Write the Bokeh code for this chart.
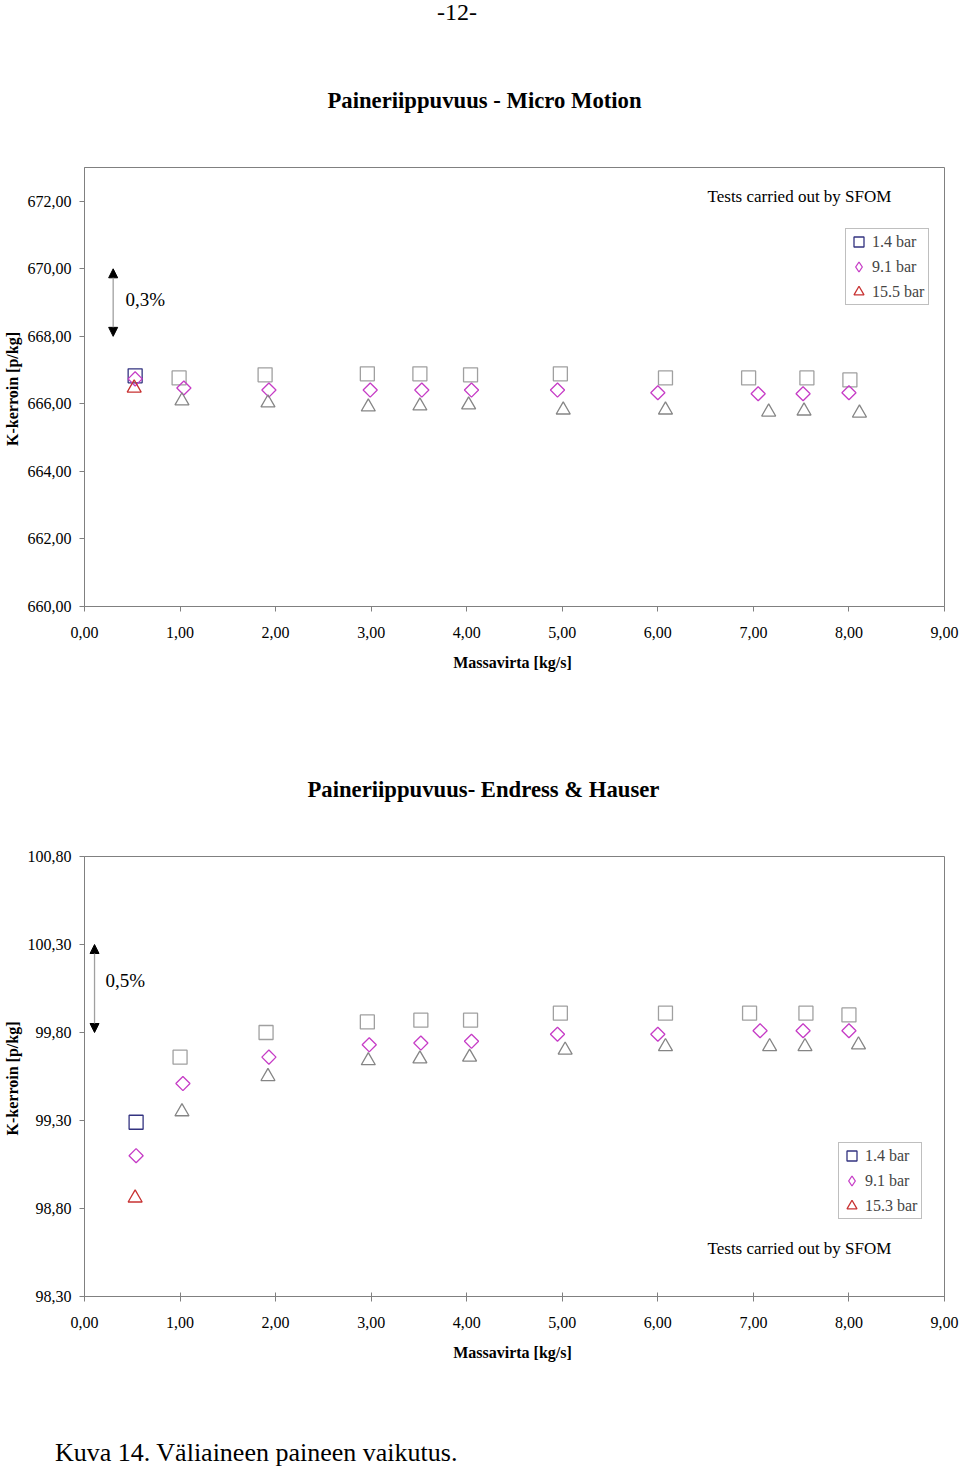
import numpy as np
from bokeh.plotting import figure
from bokeh.models import (ColumnDataSource, CDSView, IndexFilter, Range1d, FixedTicker, Div,
                          CustomJSTickFormatter, Label, Arrow, NormalHead, Legend, LegendItem)
from bokeh.layouts import column
from bokeh.embed import file_html
from bokeh.resources import INLINE

# ---------------- data ----------------
x_ticks = [0, 1, 2, 3, 4, 5, 6, 7, 8, 9]
top_y_ticks = [660, 662, 664, 666, 668, 670, 672]
bot_y_ticks = [98.3, 98.8, 99.3, 99.8, 100.3, 100.8]

# Micro Motion
mm_x_14 = [0.53, 0.99, 1.89, 2.96, 3.51, 4.04, 4.98, 6.08, 6.95, 7.56, 8.01]
mm_y_14 = [666.83, 666.77, 666.86, 666.89, 666.89, 666.86, 666.89, 666.77, 666.77, 666.77, 666.71]
mm_x_91 = [0.53, 1.04, 1.93, 2.99, 3.53, 4.05, 4.95, 6.00, 7.05, 7.52, 8.00]
mm_y_91 = [666.74, 666.47, 666.41, 666.41, 666.41, 666.41, 666.41, 666.33, 666.30, 666.30, 666.33]
mm_x_155 = [0.52, 1.02, 1.92, 2.97, 3.51, 4.02, 5.01, 6.08, 7.16, 7.53, 8.11]
mm_y_155 = [666.47, 666.09, 666.03, 665.91, 665.94, 665.97, 665.82, 665.82, 665.76, 665.79, 665.73]

# Endress & Hauser
eh_x_14 = [0.54, 1.00, 1.90, 2.96, 3.52, 4.04, 4.98, 6.08, 6.96, 7.55, 8.00]
eh_y_14 = [99.29, 99.66, 99.80, 99.86, 99.87, 99.87, 99.91, 99.91, 99.91, 99.91, 99.90]
eh_x_91 = [0.54, 1.03, 1.93, 2.98, 3.52, 4.05, 4.95, 6.00, 7.07, 7.52, 8.00]
eh_y_91 = [99.10, 99.51, 99.66, 99.73, 99.74, 99.75, 99.79, 99.79, 99.81, 99.81, 99.81]
eh_x_153 = [0.53, 1.02, 1.92, 2.97, 3.51, 4.03, 5.03, 6.08, 7.17, 7.54, 8.10]
eh_y_153 = [98.86, 99.35, 99.55, 99.64, 99.65, 99.66, 99.70, 99.72, 99.72, 99.72, 99.73]

SERIF = "Liberation Serif"
AXC = "#808080"
NAVY = "#333380"
MAGENTA = "#c63cc6"
RED = "#c83232"
GREY_SQ = "#a0a0a0"
GREY_TR = "#858585"


def add_series(p, xs, ys, marker, first_color, rest_color, size, angle=0.0, legend_marker=None):
    src = ColumnDataSource(dict(x=xs, y=ys))
    n = len(xs)
    p.scatter("x", "y", source=src, view=CDSView(filter=IndexFilter(list(range(1, n)))),
              marker=marker, size=size, angle=angle, fill_color=None,
              line_color=rest_color, line_width=1.3)
    r_first = p.scatter("x", "y", source=src, view=CDSView(filter=IndexFilter([0])),
                        marker=marker, size=size, angle=angle, fill_color=None,
                        line_color=first_color, line_width=1.3)
    if legend_marker is not None:
        # hidden renderer used only for the legend symbol (legend ignores marker angle)
        r_leg = p.scatter("x", "y", source=src, view=CDSView(filter=IndexFilter([0])),
                          marker=legend_marker, size=size, fill_color=None,
                          line_color=first_color, line_width=1.3)
        r_leg.visible = False
        return r_leg
    return r_first


def make_fig(title, y0, y1, yticks, height, btop, bbottom, xtick_in, title_offset):
    p = figure(width=960, height=height, x_range=Range1d(0, 9), y_range=Range1d(y0, y1),
               output_backend="svg", toolbar_location=None,
               min_border_left=84, min_border_right=16,
               min_border_top=btop, min_border_bottom=bbottom)
    p.title.text = title
    p.title.align = "left"
    p.title.offset = title_offset
    p.title.standoff = 109
    p.title.text_font = SERIF
    p.title.text_font_size = "22.7px"
    p.title.text_font_style = "bold"
    p.title.text_color = "black"
    p.grid.visible = False
    p.outline_line_color = AXC
    p.outline_line_width = 1
    p.background_fill_color = "white"
    p.border_fill_color = "white"
    fmt = CustomJSTickFormatter(code="return tick.toFixed(2).replace('.', ',');")
    p.xaxis.ticker = FixedTicker(ticks=x_ticks, minor_ticks=[])
    p.yaxis.ticker = FixedTicker(ticks=yticks, minor_ticks=[])
    for ax in (p.xaxis[0], p.yaxis[0]):
        ax.formatter = fmt
        ax.axis_line_color = AXC
        ax.major_tick_line_color = AXC
        ax.minor_tick_line_color = None
        ax.major_tick_out = 5
        ax.major_label_text_font = SERIF
        ax.major_label_text_font_size = "16px"
        ax.major_label_text_color = "black"
        ax.axis_label_text_font = SERIF
        ax.axis_label_text_font_style = "bold"
        ax.axis_label_text_font_size = "16px"
        ax.axis_label_text_color = "black"
    p.xaxis[0].major_tick_in = xtick_in
    p.yaxis[0].major_tick_in = 0
    p.xaxis[0].major_label_standoff = 15
    p.xaxis[0].axis_label_standoff = 13
    p.yaxis[0].major_label_standoff = 8
    p.yaxis[0].axis_label_standoff = 4
    p.xaxis[0].axis_label = "Massavirta  [kg/s]"
    p.yaxis[0].axis_label = "K-kerroin  [p/kg]"
    return p


def add_legend(p, items, loc):
    leg = Legend(items=items, location=loc, border_line_color=AXC, border_line_width=1,
                 padding=0, spacing=0, glyph_width=25, glyph_height=25, label_height=25,
                 label_width=56, label_standoff=1, margin=0, click_policy="none",
                 label_text_font=SERIF, label_text_font_size="16px",
                 background_fill_color="white", background_fill_alpha=1.0)
    p.add_layout(leg)


def add_arrow(p, x, y_lo, y_hi):
    head_a = NormalHead(size=9, fill_color="black", line_color="black")
    head_b = NormalHead(size=9, fill_color="black", line_color="black")
    p.add_layout(Arrow(start=head_a, end=head_b, x_start=x, y_start=y_lo, x_end=x, y_end=y_hi,
                       line_color="#a0a0a0", line_width=1.3))


def add_text(p, x, y, text, size, align="left", baseline="middle"):
    p.add_layout(Label(x=x, y=y, text=text, text_font=SERIF, text_font_size=size,
                       text_align=align, text_baseline=baseline, text_color="black"))


# ---------------- page number ----------------
page_no = Div(text="-12-", width=60, height=24, margin=(0, 0, 0, 437),
              styles={"font-family": SERIF, "font-size": "24px", "line-height": "24px",
                      "color": "black", "white-space": "nowrap"})

# ---------------- chart 1 : Micro Motion ----------------
p1 = make_fig("Paineriippuvuus - Micro Motion", 660, 673, top_y_ticks, 676, 143, 94, 0, 243)
r1 = add_series(p1, mm_x_14, mm_y_14, "square", NAVY, GREY_SQ, 14)
r2 = add_series(p1, mm_x_91, mm_y_91, "square", MAGENTA, MAGENTA, 10, np.pi / 4, "diamond")
r3 = add_series(p1, mm_x_155, mm_y_155, "triangle", RED, GREY_TR, 14)
add_legend(p1, [LegendItem(label="1.4 bar", renderers=[r1]),
                LegendItem(label="9.1 bar", renderers=[r2]),
                LegendItem(label="15.5 bar", renderers=[r3])], (761, 301))
add_arrow(p1, 0.30, 668.0, 670.0)
add_text(p1, 0.43, 669.1, "0,3%", "19px")
add_text(p1, 6.52, 672.15, "Tests carried out by SFOM", "17px")

# ---------------- chart 2 : Endress & Hauser ----------------
p2 = make_fig("Paineriippuvuus- Endress & Hauser", 98.3, 100.8, bot_y_ticks, 730, 156, 134, 4, 223)
s1 = add_series(p2, eh_x_14, eh_y_14, "square", NAVY, GREY_SQ, 14)
s2 = add_series(p2, eh_x_91, eh_y_91, "square", MAGENTA, MAGENTA, 10, np.pi / 4, "diamond")
s3 = add_series(p2, eh_x_153, eh_y_153, "triangle", RED, GREY_TR, 14)
add_legend(p2, [LegendItem(label="1.4 bar", renderers=[s1]),
                LegendItem(label="9.1 bar", renderers=[s2]),
                LegendItem(label="15.3 bar", renderers=[s3])], (754, 77))
add_arrow(p2, 0.105, 99.80, 100.30)
add_text(p2, 0.22, 100.095, "0,5%", "19px")
add_text(p2, 6.52, 98.57, "Tests carried out by SFOM", "17px")

# ---------------- caption ----------------
caption = Div(text="Kuva 14. Väliaineen paineen vaikutus.", width=520, height=29,
              margin=(8, 0, 0, 55),
              styles={"font-family": SERIF, "font-size": "26px", "line-height": "29px",
                      "color": "black", "white-space": "nowrap"})

layout = column(page_no, p1, p2, caption, spacing=0)
open("out.html", "w").write(file_html(layout, INLINE))
